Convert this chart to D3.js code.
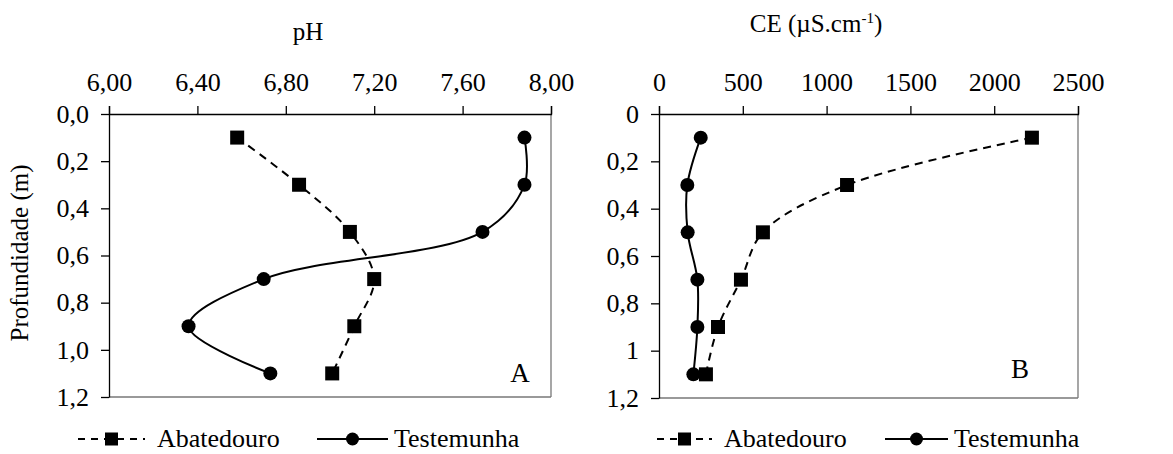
<!DOCTYPE html>
<html>
<head>
<meta charset="utf-8">
<script src="https://cdn.jsdelivr.net/npm/d3@7"></script>
<style>
  body { margin: 0; background: #fff; }
  svg { display: block; }
  svg text { font-family: "Times New Roman", "Liberation Serif", "DejaVu Serif", serif; fill: #000; }
  .axis path, .axis line { stroke: #000; stroke-width: 1.3; }
  .axis text { font-size: 26px; }
</style>
</head>
<body>
<svg class="canvas" width="1173" height="454"></svg>
<script>
// depth of each sample (m)
var depth = [0.1, 0.3, 0.5, 0.7, 0.9, 1.1];

// pH
var phAbatedouro = [6.58, 6.86, 7.09, 7.20, 7.11, 7.01];
var phTestemunha = [7.88, 7.88, 7.69, 6.70, 6.36, 6.73];

// CE (uS/cm)
var ceAbatedouro = [2225, 1122, 620, 489, 352, 280];
var ceTestemunha = [249, 169, 171, 229, 229, 205];

var phTicks = [6.0, 6.4, 6.8, 7.2, 7.6, 8.0];
var ceTicks = [0, 500, 1000, 1500, 2000, 2500];
var depthTicks = [0, 0.2, 0.4, 0.6, 0.8, 1.0, 1.2];

var svg = d3.select('.canvas');

function comma(s) { return String(s).replace('.', ','); }

function panel(opts) {
    var x = d3.scaleLinear().domain(opts.xDomain).range([opts.left, opts.right]);
    var y = d3.scaleLinear().domain([0, 1.2]).range([opts.top, opts.bottom]);
    var g = svg.append('g');

    // grey frame right + bottom
    g.append('line')
        .attr('x1', opts.right).attr('x2', opts.right)
        .attr('y1', opts.top).attr('y2', opts.bottom)
        .style('stroke', '#777').style('stroke-width', 1.3);
    g.append('line')
        .attr('x1', opts.left).attr('x2', opts.right)
        .attr('y1', opts.bottom).attr('y2', opts.bottom)
        .style('stroke', '#777').style('stroke-width', 1.3);

    g.append('g')
        .attr('class', 'axis')
        .attr('transform', 'translate(0,' + opts.top + ')')
        .call(d3.axisTop(x).tickValues(opts.xTicks).tickFormat(opts.xFormat)
            .tickSize(8).tickPadding(15).tickSizeOuter(8))
        .attr('font-family', null).attr('font-size', null);

    g.append('g')
        .attr('class', 'axis')
        .attr('transform', 'translate(' + opts.left + ',0)')
        .call(d3.axisLeft(y).tickValues(depthTicks).tickFormat(opts.yFormat)
            .tickSize(8).tickPadding(12).tickSizeOuter(0))
        .attr('font-family', null).attr('font-size', null);

    var line = d3.line()
        .x(function(d) { return x(d.v); })
        .y(function(d) { return y(d.d); })
        .curve(d3.curveCatmullRom.alpha(0.5));

    var abat = depth.map(function(d, i) { return {d: d, v: opts.abat[i]}; });
    var test = depth.map(function(d, i) { return {d: d, v: opts.test[i]}; });

    g.append('path').datum(abat)
        .attr('d', line)
        .style('fill', 'none').style('stroke', '#000')
        .style('stroke-width', 2).style('stroke-dasharray', '8,6');
    g.append('path').datum(test)
        .attr('d', line)
        .style('fill', 'none').style('stroke', '#000').style('stroke-width', 2);

    g.selectAll('.sq').data(abat).enter()
        .append('rect')
            .attr('x', function(d) { return x(d.v) - 7; })
            .attr('y', function(d) { return y(d.d) - 7; })
            .attr('width', 14).attr('height', 14)
            .style('fill', '#000');
    g.selectAll('.ci').data(test).enter()
        .append('circle')
            .attr('cx', function(d) { return x(d.v); })
            .attr('cy', function(d) { return y(d.d); })
            .attr('r', 7)
            .style('fill', '#000');

    g.append('text')
        .attr('x', opts.letterX).attr('y', opts.letterY)
        .attr('text-anchor', 'middle')
        .style('font-size', '27px')
        .text(opts.letter);

    // legend
    var ly = 439;
    var L = opts.legend;
    g.append('line')
        .attr('x1', L.a0).attr('x2', L.a1).attr('y1', ly).attr('y2', ly)
        .style('stroke', '#000').style('stroke-width', 2).style('stroke-dasharray', '7,6');
    g.append('rect')
        .attr('x', (L.a0 + L.a1) / 2 - 6.5).attr('y', ly - 6.5)
        .attr('width', 13).attr('height', 13).style('fill', '#000');
    g.append('text').attr('x', L.a1 + 12).attr('y', ly + 8)
        .style('font-size', '26px').text('Abatedouro');
    g.append('line')
        .attr('x1', L.t0).attr('x2', L.t1).attr('y1', ly).attr('y2', ly)
        .style('stroke', '#000').style('stroke-width', 2);
    g.append('circle')
        .attr('cx', (L.t0 + L.t1) / 2).attr('cy', ly).attr('r', 6.5).style('fill', '#000');
    g.append('text').attr('x', L.t1 + 6).attr('y', ly + 8)
        .style('font-size', '26px').text('Testemunha');

    return g;
}

var gA = panel({
    left: 109, right: 551, top: 114, bottom: 397,
    xDomain: [6, 8], xTicks: phTicks,
    xFormat: function(d) { return comma(d.toFixed(2)); },
    yFormat: function(d) { return comma(d.toFixed(1)); },
    abat: phAbatedouro, test: phTestemunha,
    letter: 'A', letterX: 520, letterY: 382,
    legend: {a0: 78, a1: 145, t0: 317, t1: 388}
});

var gB = panel({
    left: 659, right: 1078, top: 114, bottom: 398,
    xDomain: [0, 2500], xTicks: ceTicks,
    xFormat: function(d) { return String(d); },
    yFormat: function(d) { return comma(d3.format('~')(d)); },
    abat: ceAbatedouro, test: ceTestemunha,
    letter: 'B', letterX: 1020, letterY: 378,
    legend: {a0: 657, a1: 712, t0: 885, t1: 948}
});

// titles
svg.append('text')
    .attr('x', 308).attr('y', 40)
    .attr('text-anchor', 'middle')
    .style('font-size', '25px')
    .text('pH');

var ce = svg.append('text')
    .attr('x', 816).attr('y', 32)
    .attr('text-anchor', 'middle')
    .style('font-size', '25px');
ce.append('tspan').text('CE (\u00b5S.cm');
ce.append('tspan').attr('dy', -9).style('font-size', '15px').text('-1');
ce.append('tspan').attr('dy', 9).text(')');

svg.append('text')
    .attr('transform', 'translate(28,253) rotate(-90)')
    .attr('text-anchor', 'middle')
    .style('font-size', '25px')
    .text('Profundidade (m)');
</script>
</body>
</html>
